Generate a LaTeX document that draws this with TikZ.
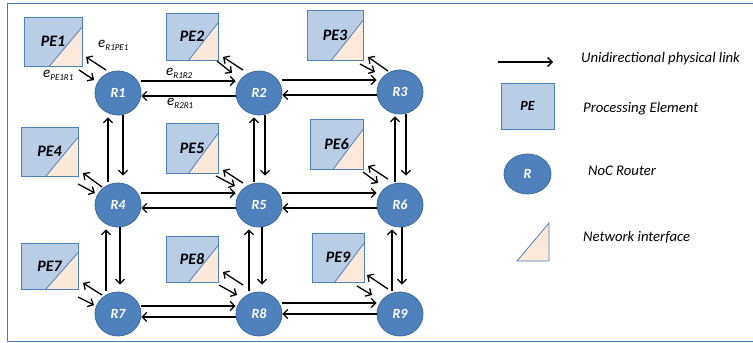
\documentclass[tikz,border=0pt]{standalone}
\usepackage{fontspec}
\setmainfont{Carlito}
\usetikzlibrary{arrows.meta,calc,shapes.geometric}
\definecolor{pefill}{HTML}{B9CDE5}
\definecolor{peborder}{HTML}{4F81BD}
\definecolor{rfill}{HTML}{4F81BD}
\definecolor{rborder}{HTML}{3A6A9E}
\definecolor{nifill}{HTML}{FDE9D9}
\definecolor{framec}{HTML}{4A7EBB}
\tikzset{
  pebox/.style={draw=peborder, line width=0.8pt, fill=pefill, inner sep=0pt,
    font=\fontsize{16}{16}\selectfont\bfseries\itshape,
    path picture={
      \fill[nifill] ($(path picture bounding box.south west)!0.44!(path picture bounding box.south east)$)
        -- (path picture bounding box.south east)
        -- ($(path picture bounding box.north east)!0.21!(path picture bounding box.south east)$) -- cycle;
      \draw[peborder, line width=0.8pt] ($(path picture bounding box.south west)!0.44!(path picture bounding box.south east)$)
        -- ($(path picture bounding box.north east)!0.21!(path picture bounding box.south east)$);
    }},
  router/.style={ellipse, draw=rborder, line width=0.8pt, fill=rfill, inner sep=0pt,
    minimum width=46pt, minimum height=44pt, text=white,
    font=\fontsize{14}{14}\selectfont\bfseries\itshape},
  link/.style={line width=1.3pt, -{Straight Barb[length=4.5pt,width=9pt]}},
  elabel/.style={anchor=base west, inner sep=0pt, font=\fontsize{15}{15}\selectfont\itshape},
  legtext/.style={anchor=base west, inner sep=0pt, font=\fontsize{14.7}{14.7}\selectfont\itshape},
}
\newcommand{\pelinks}[9]{%
  \draw[link] ($(#1)+(#2,#3)$) -- ($(#1)+(#4,#5)$);
  \draw[link] ($(#1)+(#6,#7)$) -- ($(#1)+(#8,#9)$);
}
\newcommand{\esub}[1]{\raisebox{-3.5pt}{\fontsize{9}{9}\selectfont #1}}
\begin{document}
\begin{tikzpicture}[x=1pt,y=-1pt]
\useasboundingbox (0,0) rectangle (753,343);
\draw[framec, line width=1.5pt] (7.5,3.5) rectangle (770,341.5);

% PEs
\node[pebox, minimum width=58pt, minimum height=49pt] (PE1) at (53,41.5) {PE1};
\node[pebox, minimum width=52pt, minimum height=47pt] (PE2) at (192,36.5) {PE2};
\node[pebox, minimum width=56pt, minimum height=50pt] (PE3) at (335,35) {PE3};
\node[pebox, minimum width=57pt, minimum height=49pt] (PE4) at (49.5,151.5) {PE4};
\node[pebox, minimum width=52pt, minimum height=50pt] (PE5) at (192,148) {PE5};
\node[pebox, minimum width=53pt, minimum height=50pt] (PE6) at (336.5,144) {PE6};
\node[pebox, minimum width=57pt, minimum height=46pt] (PE7) at (49.5,266) {PE7};
\node[pebox, minimum width=52pt, minimum height=46pt] (PE8) at (192,259) {PE8};
\node[pebox, minimum width=52pt, minimum height=49pt] (PE9) at (338,257.5) {PE9};

% Routers
\node[router] (R1) at (118,93) {R1};
\node[router] (R2) at (259,93) {R2};
\node[router] (R3) at (400,92) {R3};
\node[router] (R4) at (118,205) {R4};
\node[router] (R5) at (259,205) {R5};
\node[router] (R6) at (400,205) {R6};
\node[router] (R7) at (118,314) {R7};
\node[router] (R8) at (259,314) {R8};
\node[router] (R9) at (400,314) {R9};

% horizontal links
\draw[link] ([yshift=12pt]R1.east) -- ([yshift=12pt]R2.west);
\draw[link] ([yshift=-3pt]R2.west) -- ([yshift=-3pt]R1.east);
\draw[link] ([yshift=13pt]R2.east) -- ([yshift=12pt]R3.west);
\draw[link] ([yshift=-3pt]R3.west) -- ([yshift=-2pt]R2.east);
\draw[link] ([yshift=12pt]R4.east) -- ([yshift=12pt]R5.west);
\draw[link] ([yshift=-3pt]R5.west) -- ([yshift=-3pt]R4.east);
\draw[link] ([yshift=12pt]R5.east) -- ([yshift=12pt]R6.west);
\draw[link] ([yshift=-3pt]R6.west) -- ([yshift=-3pt]R5.east);
\draw[link] ([yshift=8pt]R7.east) -- ([yshift=8pt]R8.west);
\draw[link] ([yshift=-3pt]R8.west) -- ([yshift=-3pt]R7.east);
\draw[link] ([yshift=11pt]R8.east) -- ([yshift=11pt]R9.west);
\draw[link] ([yshift=0pt]R9.west) -- ([yshift=0pt]R8.east);

% vertical links
\draw[link] ([xshift=-10pt,yshift=1pt]R4.north) -- ([xshift=-10pt,yshift=-2pt]R1.south);
\draw[link] ([xshift=5pt]R1.south) -- ([xshift=5pt,yshift=7pt]R4.north);
\draw[link] ([xshift=-5pt,yshift=1pt]R5.north) -- ([xshift=-5pt,yshift=-2pt]R2.south);
\draw[link] ([xshift=6pt]R2.south) -- ([xshift=6pt,yshift=7pt]R5.north);
\draw[link] ([xshift=-5pt,yshift=1pt]R6.north) -- ([xshift=-5pt,yshift=-2pt]R3.south);
\draw[link] ([xshift=6pt]R3.south) -- ([xshift=6pt,yshift=7pt]R6.north);
\draw[link] ([xshift=-12pt,yshift=1pt]R7.north) -- ([xshift=-12pt,yshift=-2pt]R4.south);
\draw[link] ([xshift=2pt]R4.south) -- ([xshift=2pt,yshift=7pt]R7.north);
\draw[link] ([xshift=-10pt,yshift=1pt]R8.north) -- ([xshift=-10pt,yshift=-2pt]R5.south);
\draw[link] ([xshift=3pt]R5.south) -- ([xshift=3pt,yshift=7pt]R8.north);
\draw[link] ([xshift=-8pt,yshift=1pt]R9.north) -- ([xshift=-8pt,yshift=-2pt]R6.south);
\draw[link] ([xshift=2pt]R6.south) -- ([xshift=2pt,yshift=7pt]R9.north);

% router <-> PE links
\pelinks{R1}{-12}{-23}{-32}{-36}{-39}{-23}{-24}{-13}
\pelinks{R2}{-16}{-23}{-36}{-36}{-42}{-32}{-27}{-20}
\pelinks{R3}{-12}{-21}{-32}{-35}{-40}{-28}{-25}{-20}
\pelinks{R4}{-16}{-18}{-35}{-32}{-40}{-21}{-23}{-12}
\pelinks{R5}{-16}{-22}{-36}{-35}{-43}{-29}{-24}{-19}
\pelinks{R6}{-12}{-26}{-32}{-39}{-37}{-33}{-22}{-22}
\pelinks{R7}{-16}{-19}{-35}{-31}{-40}{-17}{-24}{-9}
\pelinks{R8}{-16}{-29}{-36}{-42}{-40}{-29}{-22}{-19}
\pelinks{R9}{-12}{-25}{-33}{-39}{-43}{-28}{-28}{-19}

% edge labels
\node[elabel] (lR1PE1) at (98,47) {e\esub{R1PE1}};
\node[elabel] (lPE1R1) at (43,77) {e\esub{PE1R1}};
\node[elabel] (lR1R2) at (166,75) {e\esub{R1R2}};
\node[elabel] (lR2R1) at (167,105) {e\esub{R2R1}};

% legend
\coordinate (la1) at (498,62);
\coordinate (la2) at (553,62);
\draw[link] (la1) -- (la2);
\node[legtext] (t1) at (581,62) {Unidirectional physical link};
\node[draw=peborder, line width=0.8pt, fill=pefill, minimum width=53pt, minimum height=46pt,
  font=\fontsize{14}{14}\selectfont\bfseries\itshape] (lpe) at (527.5,106) {PE};
\node[legtext] (t2) at (583,112.5) {Processing Element};
\node[router, minimum width=47pt, minimum height=40pt] (lr) at (527.5,174) {R};
\node[legtext] (t3) at (588,175) {NoC Router};
\draw[peborder, line width=0.8pt, fill=nifill] (517,261) -- (549,261) -- (549,223) -- cycle;
\node[legtext] (t4) at (583,241.5) {Network interface};
\end{tikzpicture}
\end{document}
